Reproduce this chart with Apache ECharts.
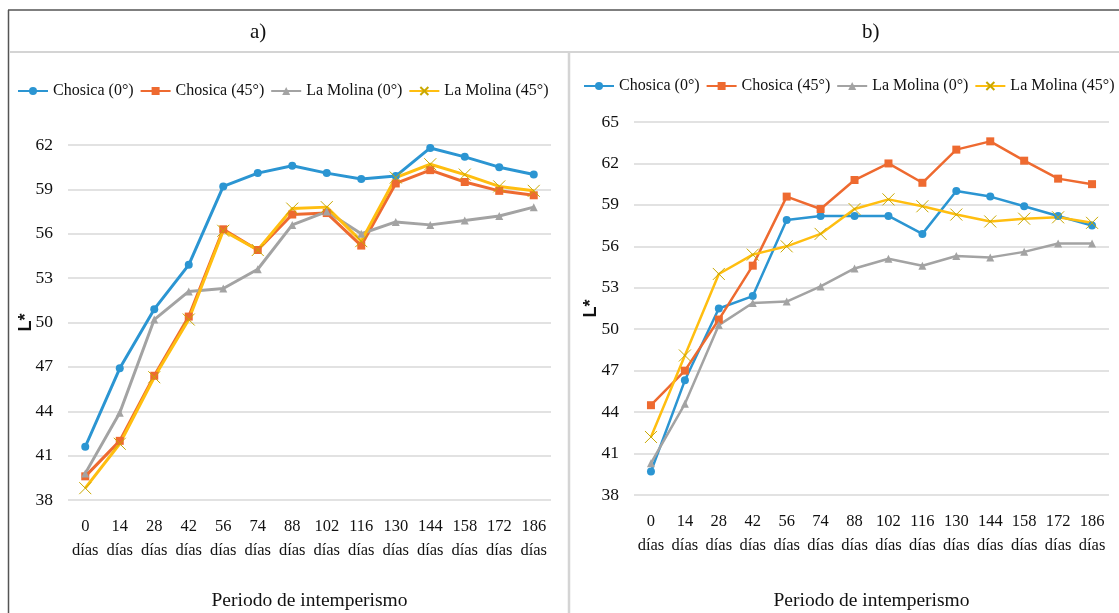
<!DOCTYPE html>
<html>
<head>
<meta charset="utf-8">
<script src="https://cdn.jsdelivr.net/npm/echarts@6/dist/echarts.min.js"></script>
<style>html,body{margin:0;padding:0;background:#fff;}#c{width:1119px;height:613px;}</style>
</head>
<body>
<div id="c"></div>
<script>
const categories = ['0\ndías','14\ndías','28\ndías','42\ndías','56\ndías','74\ndías','88\ndías','102\ndías','116\ndías','130\ndías','144\ndías','158\ndías','172\ndías','186\ndías'];
const seriesNames = ['Chosica (0°)','Chosica (45°)','La Molina (0°)','La Molina (45°)'];

// Panel a)
const aChosica0  = [41.6,46.9,50.9,53.9,59.2,60.1,60.6,60.1,59.7,59.9,61.8,61.2,60.5,60.0];
const aChosica45 = [39.6,42.0,46.4,50.4,56.3,54.9,57.3,57.4,55.2,59.4,60.3,59.5,58.9,58.6];
const aMolina0   = [39.8,43.9,50.2,52.1,52.3,53.6,56.6,57.5,56.0,56.8,56.6,56.9,57.2,57.8];
const aMolina45  = [38.8,41.8,46.3,50.2,56.2,54.9,57.7,57.8,55.5,59.8,60.7,60.0,59.2,58.9];

// Panel b)
const bChosica0  = [39.7,46.3,51.5,52.4,57.9,58.2,58.2,58.2,56.9,60.0,59.6,58.9,58.2,57.5];
const bChosica45 = [44.5,47.0,50.7,54.6,59.6,58.7,60.8,62.0,60.6,63.0,63.6,62.2,60.9,60.5];
const bMolina0   = [40.3,44.6,50.3,51.9,52.0,53.1,54.4,55.1,54.6,55.3,55.2,55.6,56.2,56.2];
const bMolina45  = [42.2,48.1,54.0,55.4,56.0,56.9,58.7,59.4,58.9,58.3,57.8,58.0,58.1,57.7];

const titles = ['a)','b)'];
const xName = 'Periodo de intemperismo';
const yName = 'L*';

const colors = ['#2B95D2','#EE6A30','#A3A3A3','#FFBE10'];
const symbols = ['circle','rect','triangle','path://M0,0L10,10M10,0L0,10'];
const serif = 'Liberation Serif, Times New Roman, serif';

function mkSeries(idx, data, gi, lw){
  const isX = idx === 3;
  return {
    name: seriesNames[idx], type: 'line', data: data,
    xAxisIndex: gi, yAxisIndex: gi,
    symbol: symbols[idx], symbolSize: isX ? 12 : 8,
    showAllSymbol: true,
    lineStyle: {color: colors[idx], width: lw},
    itemStyle: isX ? {color: colors[idx], borderColor: '#C9A800', borderWidth: 1} : {color: colors[idx]},
    emphasis: {disabled: true}
  };
}

const chart = echarts.init(document.getElementById('c'), null, {renderer: 'canvas'});
const axisCommonX = (gi, gap) => ({
  type: 'category', gridIndex: gi, data: categories, boundaryGap: true,
  axisLine: {show: false}, axisTick: {show: false},
  axisLabel: {fontFamily: serif, fontSize: 16.5, color: '#111', lineHeight: 24, margin: 15, interval: 0},
  name: xName, nameLocation: 'middle', nameGap: gap, nameMoveOverlap: false,
  nameTextStyle: {fontFamily: serif, fontSize: 19.5, color: '#111'}
});
const axisCommonY = (gi, min, max, gap) => ({
  type: 'value', gridIndex: gi, min: min, max: max, interval: 3,
  axisLine: {show: false}, axisTick: {show: false},
  splitLine: {lineStyle: {color: '#D9D9D9', width: 1.5}},
  axisLabel: {fontFamily: serif, fontSize: 17.5, color: '#111', margin: 15},
  name: yName, nameLocation: 'middle', nameRotate: 90, nameGap: gap, nameMoveOverlap: false,
  nameTextStyle: {fontFamily: 'Liberation Sans, Arial, sans-serif', fontWeight: 'bold', fontSize: 18, color: '#111'}
});
const legendCommon = {
  data: seriesNames, itemWidth: 30, itemHeight: 10, itemGap: 6,
  textStyle: {fontFamily: serif, fontSize: 16, color: '#111'},
  selectedMode: false, width: 700, padding: 0
};

chart.setOption({
  animation: false,
  backgroundColor: '#fff',
  grid: [
    {left: 68, top: 145, width: 483, height: 355, outerBoundsMode: 'none'},
    {left: 634, top: 122, width: 475, height: 373, outerBoundsMode: 'none'}
  ],
  xAxis: [axisCommonX(0, 91), axisCommonX(1, 96)],
  yAxis: [axisCommonY(0, 38, 62, 33), axisCommonY(1, 38, 65, 34)],
  legend: [
    Object.assign({left: 17, top: 83}, legendCommon),
    Object.assign({left: 583, top: 78}, legendCommon)
  ],
  graphic: [
    {type: 'line', shape: {x1: 8, y1: 10, x2: 1119, y2: 10}, style: {stroke: '#555', lineWidth: 1.5}, silent: true},
    {type: 'line', shape: {x1: 8.5, y1: 10, x2: 8.5, y2: 613}, style: {stroke: '#555', lineWidth: 1.5}, silent: true},
    {type: 'line', shape: {x1: 10, y1: 52, x2: 1119, y2: 52}, style: {stroke: '#D4D4D4', lineWidth: 2}, silent: true},
    {type: 'line', shape: {x1: 569, y1: 52, x2: 569, y2: 613}, style: {stroke: '#D4D4D4', lineWidth: 2.5}, silent: true},
    {type: 'text', left: 250, top: 22, style: {text: titles[0], font: '21px ' + serif, fill: '#111'}, silent: true},
    {type: 'text', left: 862, top: 22, style: {text: titles[1], font: '21px ' + serif, fill: '#111'}, silent: true}
  ],
  series: [
    mkSeries(0, aChosica0, 0, 3), mkSeries(1, aChosica45, 0, 3), mkSeries(2, aMolina0, 0, 3), mkSeries(3, aMolina45, 0, 3),
    mkSeries(0, bChosica0, 1, 2.5), mkSeries(1, bChosica45, 1, 2.5), mkSeries(2, bMolina0, 1, 2.5), mkSeries(3, bMolina45, 1, 2.5)
  ]
});
</script>
</body>
</html>
